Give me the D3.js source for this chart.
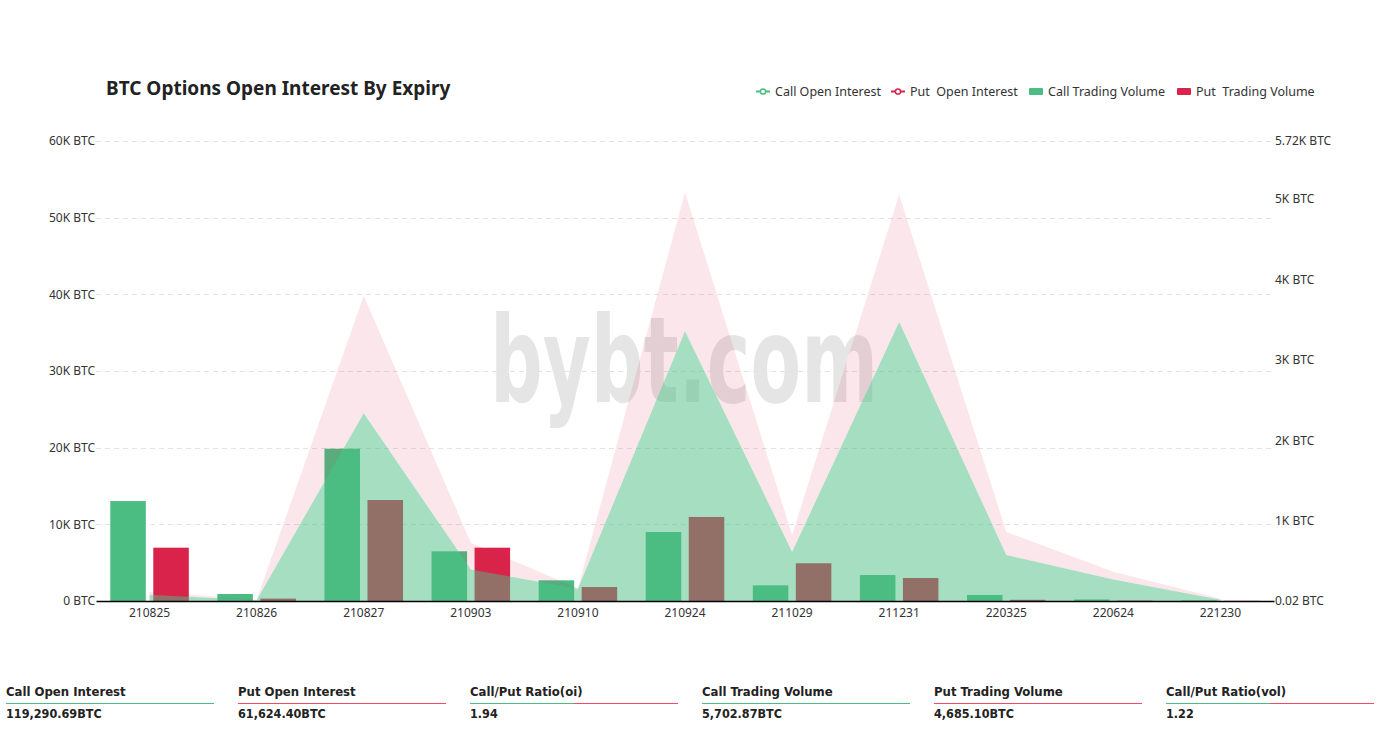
<!DOCTYPE html>
<html>
<head>
<meta charset="utf-8">
<script src="https://cdn.jsdelivr.net/npm/d3@7/dist/d3.min.js"></script>
<style>
  html, body { margin: 0; padding: 0; background: #fff; }
  svg { display: block; }
</style>
</head>
<body>
<svg id="chart" width="1380" height="736"></svg>
<script>
// ---------------- DATA ----------------
const expiries = ["210825","210826","210827","210903","210910","210924","211029","211231","220325","220624","221230"];
const callOpenInterest = [800, 100, 24500, 4100, 1600, 35200, 6400, 36400, 6000, 2800, 150];
const putOpenInterest  = [400, 50, 15300, 3500, 50, 18100, 2200, 16600, 3000, 1000, 150];
const callTradingVolume = [1243, 87, 1894, 618, 257, 858, 195, 323, 75, 19, 8];
const putTradingVolume  = [663, 30, 1256, 663, 174, 1045, 469, 286, 15, 5, 2];
const leftTicks = [0, 10000, 20000, 30000, 40000, 50000, 60000];
const leftTickLabels = ["0 BTC","10K BTC","20K BTC","30K BTC","40K BTC","50K BTC","60K BTC"];
const rightTicks = [0.02, 1000, 2000, 3000, 4000, 5000, 5720];
const rightTickLabels = ["0.02 BTC","1K BTC","2K BTC","3K BTC","4K BTC","5K BTC","5.72K BTC"];
const seriesNames = ["Call Open Interest","Put  Open Interest","Call Trading Volume","Put  Trading Volume"];
const statLabels = ["Call Open Interest","Put Open Interest","Call/Put Ratio(oi)","Call Trading Volume","Put Trading Volume","Call/Put Ratio(vol)"];
const statValues = ["119,290.69BTC","61,624.40BTC","1.94","5,702.87BTC","4,685.10BTC","1.22"];
const statKinds = ["call","put","ratio","call","put","ratio"];

// ---------------- STYLE ----------------
const GREEN = "#4bbd83", RED = "#d9234a";
const svg = d3.select("#chart");
const W = 1380;
const x0 = 96, x1 = 1274;
const yTop = 141, yBot = 601;

const x = d3.scaleBand().domain(expiries).range([x0, x1]).padding(0);
const xInner = d3.scaleBand().domain(["call","put"]).range([0, x.bandwidth()]).paddingInner(0.174).paddingOuter(0.332);
const yL = d3.scaleLinear().domain([0, 60000]).range([yBot, yTop]);
const yR = d3.scaleLinear().domain([0.02, 5720]).range([yBot, yTop]);

const axisFont = "'Noto Sans', 'DejaVu Sans', sans-serif";

// watermark
svg.append("text")
  .attr("x", 490).attr("y", 402)
  .attr("textLength", 388).attr("lengthAdjust", "spacingAndGlyphs")
  .attr("font-family", "'DejaVu Sans Condensed', 'Liberation Sans Narrow', sans-serif")
  .attr("font-weight", "bold").attr("font-size", 120)
  .attr("fill", "#000").attr("fill-opacity", 0.1)
  .text("bybt.com");

// gridlines
svg.append("g").selectAll("line").data(leftTicks.slice(1)).join("line")
  .attr("x1", x0).attr("x2", x1)
  .attr("y1", d => Math.round(yL(d)) + 0.5).attr("y2", d => Math.round(yL(d)) + 0.5)
  .attr("stroke", "#e3e3e3").attr("stroke-dasharray", "5,4");

// bars
const barData = expiries.map((e, i) => [
  {e, k: "call", v: callTradingVolume[i]},
  {e, k: "put", v: putTradingVolume[i]}
]).flat();
svg.append("g").selectAll("rect").data(barData).join("rect")
  .attr("x", d => x(d.e) + xInner(d.k))
  .attr("width", xInner.bandwidth())
  .attr("y", d => yR(d.v))
  .attr("height", d => yBot - yR(d.v))
  .attr("fill", d => d.k === "call" ? GREEN : RED);

// stacked areas
const stackData = expiries.map((e, i) => ({e, call: callOpenInterest[i], put: putOpenInterest[i]}));
const stacked = d3.stack().keys(["call","put"])(stackData);
const area = d3.area()
  .x(d => x(d.data.e) + x.bandwidth() / 2)
  .y0(d => yL(d[0])).y1(d => yL(d[1]));
svg.append("path").datum(stacked[1]).attr("d", area)
  .attr("fill", RED).attr("fill-opacity", 0.11);
svg.append("path").datum(stacked[0]).attr("d", area)
  .attr("fill", GREEN).attr("fill-opacity", 0.5);

// x axis
const xAxis = svg.append("g").attr("transform", `translate(0,${yBot})`)
  .call(d3.axisBottom(x).tickSize(0).tickPadding(7));
xAxis.select(".domain").attr("stroke", "#000").attr("stroke-width", 1.5);
xAxis.selectAll("text").attr("font-family", axisFont).attr("font-size", 12).attr("fill", "#333");

// left axis
const yAxisL = svg.append("g").attr("transform", `translate(${x0},0)`)
  .call(d3.axisLeft(yL).tickValues(leftTicks).tickFormat((d, i) => leftTickLabels[i]).tickSize(0).tickPadding(1));
yAxisL.select(".domain").remove();
yAxisL.selectAll("text").attr("font-family", axisFont).attr("font-size", 12).attr("fill", "#333");

// right axis
const yAxisR = svg.append("g").attr("transform", `translate(${x1},0)`)
  .call(d3.axisRight(yR).tickValues(rightTicks).tickFormat((d, i) => rightTickLabels[i]).tickSize(0).tickPadding(1));
yAxisR.select(".domain").remove();
yAxisR.selectAll("text").attr("font-family", axisFont).attr("font-size", 12).attr("fill", "#333");

// title
svg.append("text").attr("x", 106).attr("y", 95)
  .attr("font-family", axisFont).attr("font-weight", "bold").attr("font-size", 19)
  .attr("fill", "#222").text("BTC Options Open Interest By Expiry");

// legend
const legendX = [756, 891, 1029, 1177];
const lg = svg.append("g").attr("font-family", axisFont).attr("font-size", 12.5).attr("fill", "#333");
seriesNames.forEach((name, i) => {
  const g = lg.append("g").attr("transform", `translate(${legendX[i]},91)`);
  const col = i % 2 === 0 ? GREEN : RED;
  if (i < 2) {
    g.append("line").attr("x1", 0).attr("x2", 14).attr("y1", 0.5).attr("y2", 0.5).attr("stroke", col).attr("stroke-width", 2);
    g.append("circle").attr("cx", 7).attr("cy", 0.5).attr("r", 2.6).attr("fill", "#fff").attr("stroke", col).attr("stroke-width", 1.5);
  } else {
    g.append("rect").attr("x", 0).attr("y", -3).attr("width", 14).attr("height", 7).attr("rx", 1).attr("fill", col);
  }
  g.append("text").attr("x", 19).attr("y", 4.5).attr("xml:space", "preserve").style("white-space", "pre").text(name);
});

// stats row
const statFont = "'DejaVu Sans Condensed', 'Liberation Sans Narrow', sans-serif";
const colX = statLabels.map((_, i) => 6 + i * 232);
const colW = 208;
const st = svg.append("g");
statLabels.forEach((lab, i) => {
  const cx = colX[i];
  st.append("text").attr("x", cx).attr("y", 696)
    .attr("font-family", statFont).attr("font-weight", "bold").attr("font-size", 13)
    .attr("fill", "#222").text(lab);
  if (statKinds[i] === "ratio") {
    st.append("line").attr("x1", cx).attr("x2", cx + colW / 2).attr("y1", 703.5).attr("y2", 703.5).attr("stroke", GREEN).attr("stroke-width", 1.2);
    st.append("line").attr("x1", cx + colW / 2).attr("x2", cx + colW).attr("y1", 703.5).attr("y2", 703.5).attr("stroke", "#ef4b63").attr("stroke-width", 1.2);
  } else {
    st.append("line").attr("x1", cx).attr("x2", cx + colW).attr("y1", 703.5).attr("y2", 703.5)
      .attr("stroke", statKinds[i] === "call" ? GREEN : "#ef4b63").attr("stroke-width", 1.2);
  }
  st.append("text").attr("x", cx).attr("y", 718)
    .attr("font-family", statFont).attr("font-weight", "bold").attr("font-size", 12.5)
    .attr("fill", "#222").text(statValues[i]);
});
</script>
</body>
</html>
